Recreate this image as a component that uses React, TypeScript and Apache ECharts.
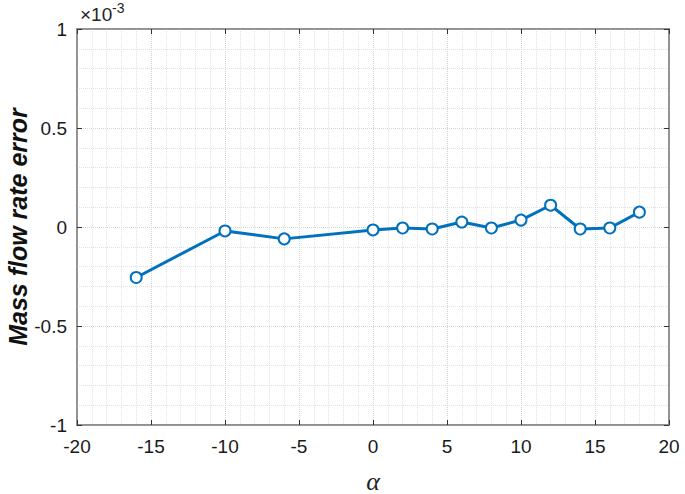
import React, { useEffect, useRef } from "react";
import * as echarts from "echarts";

// values in units of 1e-3
const alphaValues = [-16, -10, -6, 0, 2, 4, 6, 8, 10, 12, 14, 16, 18];
const errorValues = [-0.255, -0.02, -0.06, -0.015, -0.005, -0.01, 0.025, -0.005, 0.035, 0.11, -0.01, -0.005, 0.075];
const xTicks = [-20, -15, -10, -5, 0, 5, 10, 15, 20];
const yTicks = [-1, -0.5, 0, 0.5, 1];

export default function App() {
  const ref = useRef<HTMLDivElement>(null);
  useEffect(() => {
    if (!ref.current) return;
    const chart = echarts.init(ref.current, undefined, { renderer: "svg" });
    const axisColor = "#8a8a8a";
    const fam = "Liberation Sans, Arial, sans-serif";
    const labelFont = { color: "#1a1a1a", fontSize: 19, fontFamily: fam };
    const split = { show: true, lineStyle: { color: "#d4d4d4", type: "dotted" as const, width: 1 } };
    const minorSplit = { show: true, lineStyle: { color: "#e2e2e2", type: "dotted" as const, width: 1 } };
    chart.setOption({
      animation: false,
      backgroundColor: "#ffffff",
      grid: { left: 77, top: 29, width: 592, height: 396, show: true, borderColor: axisColor, borderWidth: 1.5, backgroundColor: "transparent" },
      xAxis: [
        {
          type: "value", min: xTicks[0], max: xTicks[xTicks.length - 1], interval: 5,
          axisLine: { show: true, onZero: false, lineStyle: { color: axisColor, width: 1.5 } },
          axisTick: { show: true, inside: true, length: 5, lineStyle: { color: "#333" } },
          axisLabel: { ...labelFont, margin: 12 },
          splitLine: split,
          minorTick: { show: false, splitNumber: 5 },
          minorSplitLine: minorSplit,
        },
        {
          type: "value", position: "top", min: xTicks[0], max: xTicks[xTicks.length - 1], interval: 5,
          axisLine: { show: true, onZero: false, lineStyle: { color: axisColor, width: 1.5 } },
          axisTick: { show: true, inside: true, length: 5, lineStyle: { color: "#333" } },
          axisLabel: { show: false }, splitLine: { show: false },
        },
      ],
      yAxis: [
        {
          type: "value", min: yTicks[0], max: yTicks[yTicks.length - 1], interval: 0.5,
          axisLine: { show: true, onZero: false, lineStyle: { color: axisColor, width: 1.5 } },
          axisTick: { show: true, inside: true, length: 5, lineStyle: { color: "#333" } },
          axisLabel: { ...labelFont, margin: 10, formatter: (v: number) => String(v) },
          splitLine: split,
          minorTick: { show: false, splitNumber: 5 },
          minorSplitLine: minorSplit,
        },
        {
          type: "value", position: "right", min: yTicks[0], max: yTicks[yTicks.length - 1], interval: 0.5,
          axisLine: { show: true, onZero: false, lineStyle: { color: axisColor, width: 1.5 } },
          axisTick: { show: true, inside: true, length: 5, lineStyle: { color: "#333" } },
          axisLabel: { show: false }, splitLine: { show: false },
        },
      ],
      series: [
        {
          type: "line",
          data: alphaValues.map((a, i) => [a, errorValues[i]]),
          lineStyle: { color: "#0072BD", width: 3 },
          symbol: "emptyCircle",
          symbolSize: 11,
          itemStyle: { color: "#0072BD", borderWidth: 2.8 },
        },
      ],
      graphic: [
        {
          type: "text", x: 80, y: 24,
          style: { text: "×10", fontSize: 19, fill: "#262626", fontFamily: fam, align: "left", verticalAlign: "bottom" },
        },
        {
          type: "text", x: 112, y: 15,
          style: { text: "-3", fontSize: 14, fill: "#262626", fontFamily: fam, align: "left", verticalAlign: "bottom" },
        },
        {
          type: "text", x: 18, y: 227, rotation: Math.PI / 2,
          style: {
            text: "Mass flow rate error", fontSize: 25, fontWeight: "bold", fontStyle: "italic",
            fontFamily: fam, fill: "#111", align: "center", verticalAlign: "middle",
          },
        },
        {
          type: "text", x: 373, y: 481,
          style: {
            text: "α", fontSize: 26, fontStyle: "italic", fontFamily: "Liberation Serif, Times New Roman, serif",
            fill: "#222", align: "center", verticalAlign: "middle",
          },
        },
      ],
    });
    return () => chart.dispose();
  }, []);
  return <div ref={ref} style={{ width: 685, height: 494, position: "absolute", left: 0, top: 0 }} />;
}
